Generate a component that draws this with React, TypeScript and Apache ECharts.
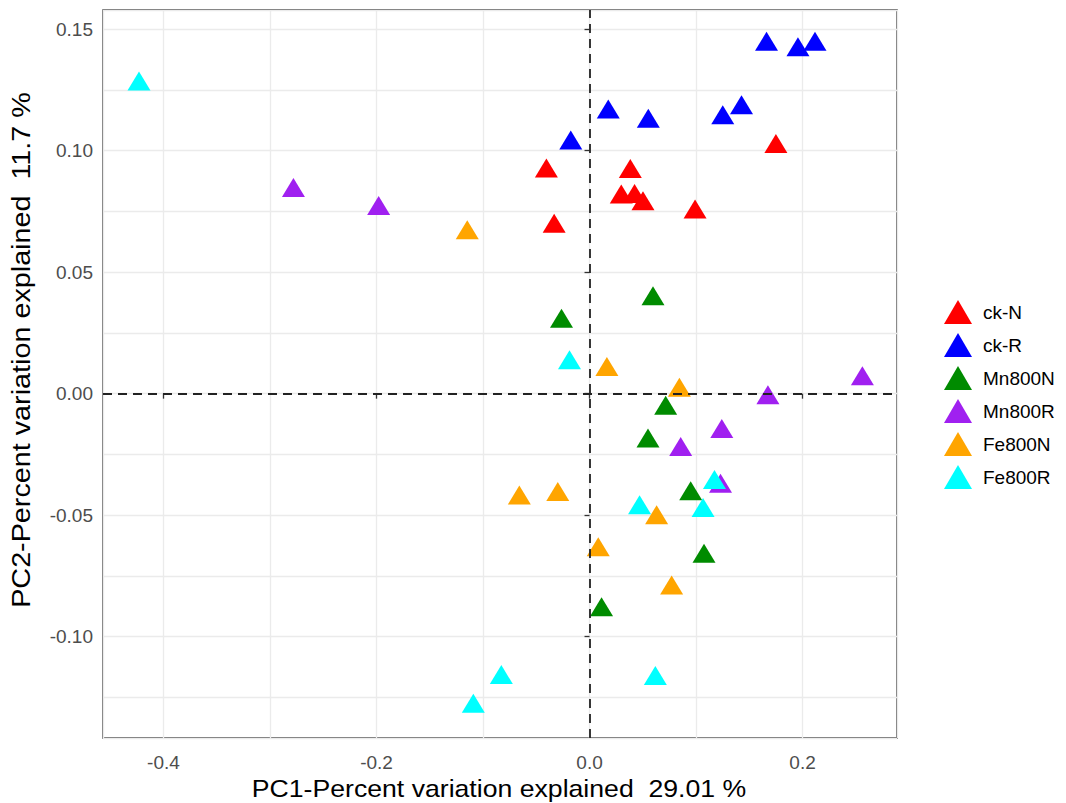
import React, { useEffect, useRef } from "react";
import * as echarts from "echarts";

const groups = ["ck-N", "ck-R", "Mn800N", "Mn800R", "Fe800N", "Fe800R"];
const groupColors = ["#FF0000", "#0000FF", "#008B00", "#A020F0", "#FFA500", "#00FFFF"];

const ckN = [[-0.0405, 0.0929], [0.0383, 0.0927], [0.0298, 0.0822], [0.0423, 0.0824], [0.0502, 0.0794], [0.0991, 0.076], [-0.0332, 0.0701], [0.175, 0.103]];
const ckR = [[-0.0176, 0.1044], [0.0176, 0.1172], [0.0552, 0.1133], [0.1251, 0.1148], [0.1427, 0.1189], [0.1662, 0.145], [0.1957, 0.1428], [0.2117, 0.145]];
const mn800N = [[0.0596, 0.0403], [-0.0263, 0.031], [0.0715, -0.0048], [0.0549, -0.0182], [0.095, -0.0399], [0.1075, -0.0657], [0.0113, -0.0877]];
const mn800R = [[-0.278, 0.0849], [-0.198, 0.0774], [0.1675, -0.0004], [0.2562, 0.0074], [0.1242, -0.0143], [0.0856, -0.0217], [0.123, -0.0369]];
const fe800N = [[-0.1148, 0.0675], [0.0163, 0.0112], [0.0844, 0.0026], [-0.0659, -0.0417], [-0.0298, -0.0403], [0.063, -0.0498], [0.0082, -0.063], [0.0771, -0.0787]];
const fe800R = [[-0.423, 0.1287], [-0.0188, 0.014], [0.1173, -0.0353], [0.047, -0.0457], [0.1066, -0.0468], [-0.0828, -0.1156], [0.0618, -0.116], [-0.1091, -0.1274]];

const seriesData = [ckN, ckR, mn800N, mn800R, fe800N, fe800R];

const xMin = -0.4568;
const xMax = 0.2887;
const yMin = -0.1417;
const yMax = 0.1579;
const xTickValues = [-0.4, -0.2, 0, 0.2];
const yTickValues = [-0.1, -0.05, 0, 0.05, 0.1, 0.15];

const xTitle = "PC1-Percent variation explained  29.01 %";
const yTitle = "PC2-Percent variation explained  11.7 %";

const FONT = "'Liberation Sans', Arial, Helvetica, sans-serif";

export default function App() {
  const ref = useRef<HTMLDivElement>(null);
  useEffect(() => {
    if (!ref.current) return;
    const chart = echarts.init(ref.current, null, { renderer: "svg" });
    const gridLine = { lineStyle: { color: "#EBEBEB", width: 1.3 } };
    const option: any = {
      animation: false,
      backgroundColor: "#FFFFFF",
      textStyle: { fontFamily: FONT },
      grid: {
        left: 103,
        top: 10,
        width: 794,
        height: 728,
        show: true,
        borderColor: "#333333",
        borderWidth: 1.3,
        backgroundColor: "transparent",
        containLabel: false,
        outerBoundsMode: "none",
      },
      xAxis: [
        {
          type: "value",
          min: xMin,
          max: xMax,
          minInterval: 0.1,
          maxInterval: 0.1,
          splitLine: gridLine,
          axisLine: { show: false },
          axisTick: { show: false },
          axisLabel: { show: false },
        },
        {
          type: "value",
          min: xMin,
          max: xMax,
          position: "bottom",
          splitLine: { show: false },
          axisLine: { show: false },
          axisTick: { show: true, customValues: xTickValues, length: 5, lineStyle: { color: "#333333", width: 1.3 } },
          axisLabel: {
            customValues: xTickValues,
            formatter: (v: number) => v.toFixed(1),
            color: "#4D4D4D",
            fontSize: 19,
            fontFamily: FONT,
            margin: 15,
          },
        },
      ],
      yAxis: [
        {
          type: "value",
          min: yMin,
          max: yMax,
          minInterval: 0.025,
          maxInterval: 0.025,
          splitLine: gridLine,
          axisLine: { show: false },
          axisTick: { show: false },
          axisLabel: { show: false },
        },
        {
          type: "value",
          min: yMin,
          max: yMax,
          position: "left",
          splitLine: { show: false },
          axisLine: { show: false },
          axisTick: { show: true, customValues: yTickValues, length: 5, lineStyle: { color: "#333333", width: 1.3 } },
          axisLabel: {
            customValues: yTickValues,
            formatter: (v: number) => v.toFixed(2),
            color: "#4D4D4D",
            fontSize: 19,
            fontFamily: FONT,
            margin: 10,
          },
        },
      ],
      graphic: [
        {
          type: "text",
          x: 499,
          y: 788,
          scaleX: 1.11,
          style: { text: xTitle, fontSize: 24, fontFamily: FONT, fill: "#000000", align: "center", verticalAlign: "middle" },
        },
        {
          type: "text",
          x: 22,
          y: 350,
          rotation: Math.PI / 2,
          scaleX: 1.15,
          style: { text: yTitle, fontSize: 25, fontFamily: FONT, fill: "#000000", align: "center", verticalAlign: "middle" },
        },
      ],
      legend: {
        orient: "vertical",
        left: 939,
        top: 295,
        itemWidth: 28,
        itemHeight: 24,
        itemGap: 9,
        symbolKeepAspect: false,
        icon: "triangle",
        data: groups,
        textStyle: { color: "#000000", fontSize: 19, fontFamily: FONT, padding: [0, 0, 0, 6] },
      },
      series: groups.map((g, i) => ({
        name: g,
        type: "scatter",
        xAxisIndex: 0,
        yAxisIndex: 0,
        symbol: "triangle",
        symbolSize: [23, 19],
        itemStyle: { color: groupColors[i], opacity: 1 },
        data: seriesData[i],
        z: 3,
        ...(i === groups.length - 1
          ? {
              markLine: {
                silent: true,
                symbol: "none",
                label: { show: false },
                lineStyle: { color: "#222222", width: 1.8, type: [9, 6] },
                data: [{ xAxis: 0 }, { yAxis: 0 }],
                z: 5,
              },
            }
          : {}),
      })),
    };
    chart.setOption(option);
    return () => chart.dispose();
  }, []);
  return (
    <div
      ref={ref}
      style={{ position: "fixed", left: 0, top: 0, width: 1066, height: 803, background: "#fff" }}
    />
  );
}
